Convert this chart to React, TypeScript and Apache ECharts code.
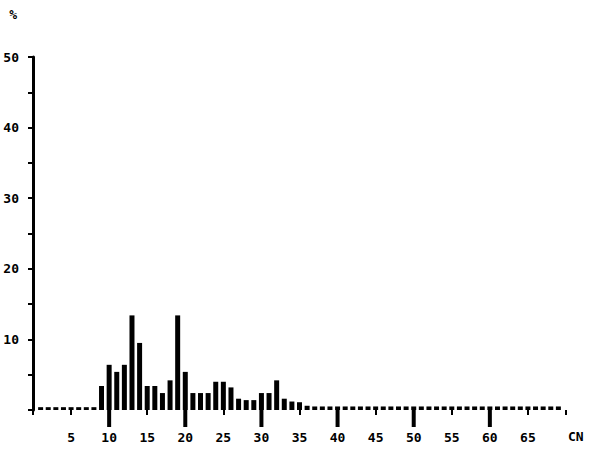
import React, { useEffect, useRef } from "react";
import * as echarts from "echarts";

const carbonNumbers: number[] = Array.from({ length: 69 }, (_, i) => i + 1);
const percentValues: number[] = [
  0.4, 0.4, 0.4, 0.4, 0.4, 0.4, 0.4, 0.4, // 1-8
  3.4, 6.4, 5.4, 6.4, 13.4, 9.5, 3.4, 3.4, 2.4, 4.2, 13.4, 5.4, // 9-20
  2.4, 2.4, 2.4, 4.0, 4.0, 3.2, 1.6, 1.4, 1.4, 2.4, 2.4, 4.2, // 21-32
  1.6, 1.2, 1.1, 0.6, 0.5, 0.5, 0.5, 0.5, 0.5, 0.5, 0.5, 0.5, // 33-44
  0.5, 0.5, 0.5, 0.5, 0.5, 0.5, 0.5, 0.5, 0.5, 0.5, 0.5, 0.5, // 45-56
  0.5, 0.5, 0.5, 0.5, 0.5, 0.5, 0.5, 0.5, 0.5, 0.5, 0.5, 0.5, 0.5, // 57-69
];
const xTickLabels: number[] = [5, 10, 15, 20, 25, 30, 35, 40, 45, 50, 55, 60, 65];
const xMajorTicks: number[] = [10, 20, 30, 40, 50, 60];
const yTickLabels: number[] = [10, 20, 30, 40, 50];

const FONT = "DejaVu Sans Mono";

export default function App() {
  const ref = useRef<HTMLDivElement>(null);
  useEffect(() => {
    document.body.style.margin = "0";
    if (!ref.current) return;
    const chart = echarts.init(ref.current, undefined, { renderer: "svg" });
    const data = carbonNumbers.map((cn, i) => [cn, percentValues[i]]);
    chart.setOption({
      animation: false,
      backgroundColor: "#ffffff",
      grid: { left: 33, right: 33, top: 57, bottom: 39, containLabel: false },
      xAxis: {
        type: "value",
        position: "bottom",
        min: 0,
        max: 70,
        interval: 5,
        name: "CN",
        nameLocation: "end",
        nameGap: 2,
        nameTextStyle: {
          color: "#000",
          fontFamily: FONT,
          fontWeight: "bold",
          fontSize: 13,
          verticalAlign: "top",
          lineHeight: 13,
          padding: [20, 0, 0, 0],
        },
        axisLine: { show: false, onZero: false },
        axisTick: { show: true, length: 5, lineStyle: { color: "#000", width: 2 } },
        splitLine: { show: false },
        axisLabel: {
          margin: 21,
          color: "#000",
          fontFamily: FONT,
          fontWeight: "bold",
          fontSize: 13,
          formatter: (v: number) => (xTickLabels.includes(v) ? String(v) : ""),
        },
      },
      yAxis: {
        type: "value",
        min: 0,
        max: 50,
        interval: 5,
        name: "%",
        nameLocation: "end",
        nameGap: 36,
        nameTextStyle: {
          color: "#000",
          fontFamily: FONT,
          fontWeight: "bold",
          fontSize: 13,
          align: "right",
          padding: [0, 16, 0, 0],
        },
        axisLine: { show: true, lineStyle: { color: "#000", width: 3 } },
        axisTick: { show: true, length: 5, lineStyle: { color: "#000", width: 2 } },
        splitLine: { show: false },
        axisLabel: {
          margin: 14,
          color: "#000",
          fontFamily: FONT,
          fontWeight: "bold",
          fontSize: 13,
          formatter: (v: number) => (yTickLabels.includes(v) ? String(v) : ""),
        },
      },
      series: [
        {
          type: "bar",
          data,
          barWidth: 5,
          itemStyle: { color: "#000" },
        },
      ],
    });
    const py = chart.convertToPixel({ yAxisIndex: 0 }, 0) as number;
    const longTicks = xMajorTicks.map((v) => {
      const px = chart.convertToPixel({ xAxisIndex: 0 }, v) as number;
      return {
        type: "rect",
        z: 100,
        shape: { x: px - 2, y: py, width: 4, height: 17 },
        style: { fill: "#000" },
        silent: true,
      };
    });
    chart.setOption({ graphic: { elements: longTicks } });
    return () => chart.dispose();
  }, []);
  return <div ref={ref} style={{ width: 599, height: 449 }} />;
}
